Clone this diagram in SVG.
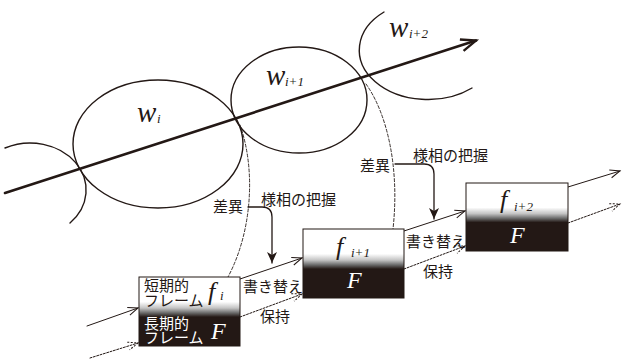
<svg xmlns="http://www.w3.org/2000/svg" width="622" height="360" viewBox="0 0 622 360">
<style>
.ln{fill:none;stroke:#231815;stroke-linecap:round}
.jp{font-family:"Noto Sans CJK JP","Noto Sans",sans-serif;font-size:15px;fill:#231815}
.it{font-family:"Liberation Serif","Times New Roman",serif;font-style:italic;fill:#231815}
text.wh{fill:#ffffff}
.box{fill:url(#g);stroke:#231815;stroke-width:1}
.dash{stroke-dasharray:3,2}
.dot{stroke-dasharray:2,1.5}
</style>
<defs>
<linearGradient id="g" x1="0" y1="0" x2="0" y2="1">
<stop offset="0" stop-color="#ffffff"/>
<stop offset="0.36" stop-color="#ffffff"/>
<stop offset="0.45" stop-color="#c4c4c4"/>
<stop offset="0.52" stop-color="#6a6a6a"/>
<stop offset="0.58" stop-color="#231815"/>
<stop offset="1" stop-color="#231815"/>
</linearGradient>
<marker id="open" markerUnits="userSpaceOnUse" markerWidth="14" markerHeight="12" refX="11" refY="5" orient="auto">
<path d="M1,1 L11,5 L1,9" fill="none" stroke="#231815" stroke-width="1"/>
</marker>
<marker id="openDot" markerUnits="userSpaceOnUse" markerWidth="14" markerHeight="12" refX="11" refY="5" orient="auto">
<path d="M1,1 L11,5 L1,9" fill="none" stroke="#231815" stroke-width="1" stroke-dasharray="2,1.5"/>
</marker>
<marker id="solid" markerUnits="userSpaceOnUse" markerWidth="14" markerHeight="12" refX="11" refY="5" orient="auto">
<path d="M0,0 L11,5 L0,10 L3,5 Z" fill="#231815"/>
</marker>
<marker id="big" markerUnits="userSpaceOnUse" markerWidth="20" markerHeight="16" refX="16" refY="7" orient="auto">
<path d="M1,1 L16,7 L1,13" fill="none" stroke="#231815" stroke-width="2.4" stroke-linejoin="miter"/>
</marker>
</defs>
<rect width="622" height="360" fill="#ffffff"/>

<g id="circles">
<path class="ln" stroke-width="1.4" d="M5,148 A56,47 0 0 1 70,223"/>
<ellipse class="ln" stroke-width="1.4" cx="158" cy="144" rx="85" ry="64"/>
<ellipse class="ln" stroke-width="1.4" cx="299" cy="100" rx="68" ry="53"/>
<path class="ln" stroke-width="1.4" d="M384,12 A68,49 0 1 0 472,88"/>
</g>

<g id="labels-w">
<text class="it" x="137" y="122" font-size="29">w</text>
<text class="it" x="157" y="123" font-size="13">i</text>
<text class="it" x="266" y="85" font-size="29">w</text>
<text class="it" x="285" y="86" font-size="13">i+1</text>
<text class="it" x="389" y="37" font-size="29">w</text>
<text class="it" x="409" y="38" font-size="13">i+2</text>
</g>

<g id="main-arrow">
<line class="ln" stroke-width="2.6" x1="5" y1="193" x2="476" y2="40.6" marker-end="url(#big)"/>
</g>

<g id="connectors">
<path class="ln dash" stroke-width="0.9" d="M240,125 C256,170 252,232 228,277"/>
<path class="ln dash" stroke-width="0.9" d="M366,84 C386,112 400,165 393,229"/>
<path class="ln" stroke-width="1.3" d="M248,207 L262,207 Q272,207 272,217 L272,263" marker-end="url(#solid)"/>
<path class="ln" stroke-width="1.3" d="M395,164 L424,164 Q434,164 434,174 L434,219" marker-end="url(#solid)"/>
<line class="ln" stroke-width="1" x1="87" y1="326" x2="138" y2="308" marker-end="url(#open)"/>
<line class="ln" stroke-width="1" x1="240" y1="279" x2="302" y2="258" marker-end="url(#open)"/>
<line class="ln" stroke-width="1" x1="404" y1="231" x2="465" y2="211" marker-end="url(#open)"/>
<line class="ln" stroke-width="1" x1="568" y1="187" x2="620" y2="171" marker-end="url(#open)"/>
<line class="ln dot" stroke-width="1" x1="90" y1="358" x2="138" y2="343" marker-end="url(#openDot)"/>
<line class="ln dot" stroke-width="1" x1="240" y1="317" x2="302" y2="294" marker-end="url(#openDot)"/>
<line class="ln dot" stroke-width="1" x1="404" y1="269" x2="465" y2="246" marker-end="url(#openDot)"/>
<line class="ln dot" stroke-width="1" x1="568" y1="223" x2="620" y2="204" marker-end="url(#openDot)"/>
</g>

<g id="connector-labels">
<text class="jp" x="213" y="212">差異</text>
<text class="jp" x="261" y="205">様相の把握</text>
<text class="jp" x="360" y="171">差異</text>
<text class="jp" x="413" y="161">様相の把握</text>
<text class="jp" x="243" y="292">書き替え</text>
<text class="jp" x="260" y="322">保持</text>
<text class="jp" x="406" y="247">書き替え</text>
<text class="jp" x="423" y="277">保持</text>
</g>

<g id="box-i">
<rect class="box" x="139" y="277" width="101" height="69"/>
<text class="jp" x="144" y="291" font-size="16">短期的</text>
<text class="jp" x="144" y="306" font-size="14.5">フレーム</text>
<text class="jp wh" x="144" y="329" font-size="16">長期的</text>
<text class="jp wh" x="144" y="343" font-size="14.5">フレーム</text>
<text class="it" x="208" y="300" font-size="26">f</text>
<text class="it" x="220" y="300" font-size="13">i</text>
<text class="it wh" x="211" y="339" font-size="24">F</text>
</g>

<g id="box-i1">
<rect class="box" x="303" y="229" width="101" height="69"/>
<text class="it" x="336" y="255" font-size="26">f</text>
<text class="it" x="351" y="257" font-size="13">i+1</text>
<text class="it wh" x="347" y="288" font-size="24">F</text>
</g>

<g id="box-i2">
<rect class="box" x="466" y="183" width="102" height="68"/>
<text class="it" x="500" y="208" font-size="26">f</text>
<text class="it" x="514" y="211" font-size="13">i+2</text>
<text class="it wh" x="510" y="243" font-size="24">F</text>
</g>
</svg>
